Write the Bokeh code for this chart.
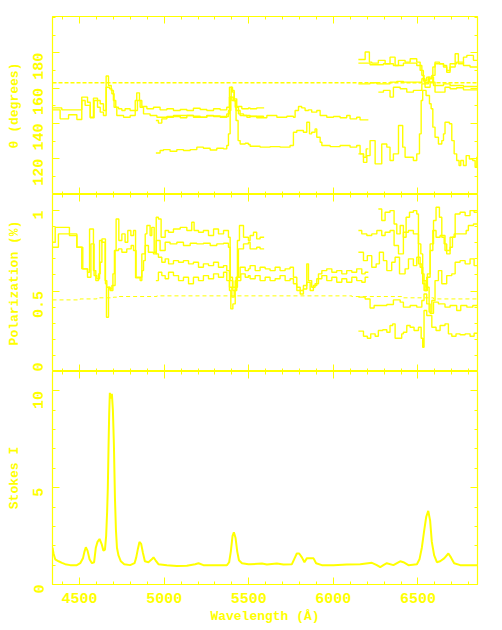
from bokeh.plotting import figure
from bokeh.layouts import column
from bokeh.models import (Range1d, FixedTicker, LinearAxis, CustomJSTickFormatter,
                          CustomLabelingPolicy)
from bokeh.embed import file_html
from bokeh.resources import INLINE

# ---------------- data ----------------
X_MIN, X_MAX = 4340, 6852
X_MAJOR = [4500, 5000, 5500, 6000, 6500]
X_MINOR = list(range(4400, 6900, 100))

# Position angle (degrees)
TH_A1_W = [4340, 4395, 4513, 4547, 4563, 4582, 4606, 4622, 4641, 4657, 4671, 4687, 4700, 4714, 4730, 4750, 4769, 4799, 4829, 4838, 4854, 4868, 4898, 4937, 4976, 5016, 5055, 5095, 5134, 5173, 5213, 5252, 5292, 5331, 5370, 5386, 5400, 5414, 5429, 5459, 5498, 5508, 5547, 5591]
TH_A1 = [148.8, 147.7, 154.9, 152.0, 143.5, 154.3, 153.0, 151.1, 147.3, 166.8, 161.5, 158.7, 153.0, 149.2, 148.3, 147.3, 148.3, 147.3, 153.0, 157.3, 153.0, 149.6, 148.3, 149.2, 147.7, 148.3, 147.3, 147.9, 147.3, 148.6, 147.9, 147.3, 148.3, 147.7, 149.2, 160.5, 158.7, 153.9, 149.6, 148.3, 148.8, 148.3, 148.8, 148.8]
TH_A2_W = [4340, 4385, 4435, 4484, 4513, 4533, 4563, 4586, 4606, 4622, 4641, 4657, 4677, 4691, 4704, 4720, 4760, 4799, 4829, 4842, 4858, 4878, 4917, 4957, 5016, 5095, 5173, 5252, 5331, 5380, 5394, 5410, 5425, 5449, 5489, 5508, 5587, 5591]
TH_A2 = [147.7, 142.6, 144.9, 142.2, 153.0, 150.2, 143.2, 153.0, 149.2, 146.4, 144.5, 160.5, 159.6, 156.8, 149.2, 144.5, 143.5, 144.5, 147.3, 153.0, 149.2, 145.4, 144.5, 143.5, 143.9, 144.5, 143.5, 144.3, 143.9, 147.3, 154.9, 153.0, 147.3, 144.5, 143.5, 144.1, 143.5, 143.5]
TH_B1_W = [4951, 4966, 4986, 5016, 5055, 5095, 5134, 5173, 5213, 5252, 5292, 5331, 5370, 5386, 5400, 5420, 5439, 5469, 5508, 5547, 5607, 5666, 5725, 5764, 5774, 5794, 5813, 5833, 5853, 5872, 5902, 5922, 5961, 6001, 6040, 6079, 6099, 6138, 6158, 6207]
TH_B1 = [141.7, 140.2, 142.6, 143.5, 144.5, 143.2, 144.5, 144.1, 143.5, 144.5, 143.9, 143.5, 145.4, 154.9, 153.0, 149.2, 145.4, 144.5, 143.9, 143.2, 144.5, 143.5, 144.1, 143.5, 147.3, 149.6, 148.8, 147.3, 147.7, 146.4, 147.3, 144.5, 143.5, 143.9, 143.2, 144.5, 142.6, 143.5, 142.0, 142.0]
TH_B2_W = [4951, 4976, 4996, 5035, 5075, 5114, 5154, 5193, 5232, 5272, 5311, 5351, 5370, 5380, 5390, 5396, 5404, 5414, 5425, 5437, 5449, 5479, 5498, 5508, 5567, 5626, 5685, 5744, 5764, 5784, 5823, 5843, 5859, 5872, 5892, 5902, 5922, 5932, 5981, 6040, 6099, 6138, 6158, 6178, 6194, 6207]
TH_B2 = [123.3, 124.7, 125.2, 124.3, 125.2, 124.7, 125.2, 126.6, 126.0, 125.0, 126.0, 125.6, 127.5, 134.1, 154.9, 160.5, 157.7, 153.0, 141.7, 130.3, 128.4, 128.8, 128.1, 127.1, 126.6, 126.9, 126.6, 127.5, 135.0, 136.0, 135.0, 140.7, 134.1, 135.0, 136.9, 132.2, 129.4, 127.5, 126.9, 127.5, 126.6, 127.5, 122.8, 120.9, 125.6, 125.6]
TH_C1_W = [6148, 6188, 6213, 6227, 6266, 6306, 6335, 6365, 6385, 6424, 6454, 6493, 6513, 6532, 6552, 6568, 6588, 6601, 6627, 6651, 6670, 6690, 6720, 6739, 6769, 6789, 6828, 6852]
TH_C1 = [176.2, 180.4, 174.7, 174.1, 175.7, 173.8, 177.5, 172.8, 175.7, 174.7, 176.6, 174.7, 170.0, 164.3, 166.2, 163.4, 171.9, 174.7, 173.8, 172.8, 170.0, 171.9, 179.4, 173.8, 177.5, 178.5, 175.7, 175.7]
TH_C2_W = [6148, 6217, 6296, 6355, 6414, 6493, 6523, 6536, 6562, 6582, 6601, 6651, 6670, 6690, 6729, 6769, 6808, 6852]
TH_C2 = [174.1, 173.2, 173.8, 172.8, 174.1, 172.8, 167.2, 163.4, 165.3, 167.2, 173.8, 171.9, 169.0, 173.8, 174.7, 172.8, 171.9, 171.9]
TH_C3_W = [6148, 6217, 6257, 6335, 6375, 6414, 6523, 6542, 6562, 6592, 6651, 6690, 6769, 6852]
TH_C3 = [162.4, 163.0, 162.4, 163.4, 163.8, 163.4, 165.3, 162.4, 166.2, 161.5, 162.4, 161.5, 160.9, 160.9]
TH_C4_W = [6266, 6296, 6335, 6355, 6395, 6434, 6473, 6523, 6542, 6572, 6601, 6660, 6690, 6729, 6769, 6852]
TH_C4 = [157.7, 158.7, 154.9, 160.5, 159.6, 157.7, 158.7, 162.4, 160.5, 163.4, 157.7, 160.5, 159.6, 160.2, 159.0, 159.0]
TH_C5_W = [6148, 6178, 6198, 6217, 6247, 6286, 6316, 6335, 6355, 6385, 6410, 6424, 6473, 6493, 6509, 6519, 6528, 6548, 6568, 6578, 6588, 6601, 6621, 6641, 6651, 6660, 6686, 6700, 6714, 6729, 6743, 6753, 6769, 6785, 6804, 6824, 6838, 6848, 6852]
TH_C5 = [122.8, 118.0, 121.8, 130.3, 117.1, 128.4, 126.6, 119.0, 122.8, 138.8, 126.6, 120.9, 119.0, 122.8, 134.1, 153.0, 158.7, 155.8, 151.1, 148.3, 137.9, 132.2, 128.4, 130.3, 134.1, 140.7, 139.8, 130.3, 122.8, 119.0, 116.2, 119.0, 116.2, 121.8, 119.9, 119.0, 115.2, 120.9, 120.9]
ISP_THETA = 163.0

# Polarization (%)
P_A1_W = [4340, 4356, 4440, 4484, 4513, 4547, 4559, 4582, 4596, 4612, 4622, 4632, 4653, 4659, 4671, 4681, 4697, 4706, 4716, 4732, 4750, 4769, 4785, 4803, 4819, 4831, 4858, 4868, 4878, 4888, 4898, 4917, 4927, 4941, 4953, 4966, 4982, 5006, 5026, 5055, 5095, 5134, 5163, 5177, 5203, 5232, 5262, 5292, 5321, 5351, 5380, 5390, 5404, 5420, 5433, 5445, 5469, 5498, 5508, 5528, 5547, 5567, 5591]
P_A1 = [0.803, 0.896, 0.855, 0.772, 0.638, 0.617, 0.886, 0.627, 0.565, 0.607, 0.679, 0.824, 0.545, 0.337, 0.524, 0.503, 0.607, 0.752, 0.948, 0.814, 0.855, 0.803, 0.876, 0.845, 0.876, 0.582, 0.565, 0.627, 0.689, 0.855, 0.907, 0.845, 0.896, 0.741, 0.959, 0.948, 0.834, 0.876, 0.865, 0.886, 0.896, 0.876, 0.928, 0.876, 0.865, 0.876, 0.845, 0.886, 0.855, 0.876, 0.834, 0.586, 0.524, 0.565, 0.814, 0.907, 0.834, 0.814, 0.845, 0.865, 0.824, 0.834, 0.834]
P_A2_W = [4340, 4375, 4440, 4484, 4519, 4547, 4567, 4586, 4602, 4618, 4632, 4651, 4661, 4677, 4691, 4710, 4730, 4750, 4779, 4805, 4819, 4834, 4868, 4888, 4907, 4937, 4953, 4976, 5006, 5035, 5075, 5114, 5154, 5193, 5232, 5272, 5311, 5351, 5380, 5390, 5406, 5425, 5439, 5469, 5498, 5508, 5547, 5567, 5591]
P_A2 = [0.772, 0.855, 0.845, 0.772, 0.638, 0.586, 0.793, 0.596, 0.576, 0.814, 0.803, 0.565, 0.524, 0.513, 0.534, 0.752, 0.762, 0.741, 0.762, 0.783, 0.752, 0.586, 0.731, 0.783, 0.741, 0.731, 0.814, 0.752, 0.803, 0.793, 0.803, 0.783, 0.797, 0.793, 0.797, 0.783, 0.793, 0.797, 0.772, 0.565, 0.503, 0.586, 0.762, 0.793, 0.803, 0.762, 0.772, 0.762, 0.762]
P_B1_W = [4951, 4966, 4986, 5006, 5026, 5055, 5085, 5114, 5144, 5173, 5203, 5232, 5262, 5292, 5321, 5351, 5370, 5386, 5400, 5414, 5429, 5449, 5479, 5498, 5508, 5538, 5567, 5597, 5626, 5656, 5685, 5715, 5744, 5764, 5784, 5804, 5823, 5843, 5853, 5872, 5892, 5912, 5932, 5961, 5991, 6020, 6050, 6079, 6109, 6138, 6168, 6188, 6207]
P_B1 = [0.731, 0.710, 0.679, 0.700, 0.669, 0.689, 0.679, 0.689, 0.669, 0.679, 0.648, 0.669, 0.658, 0.679, 0.648, 0.658, 0.627, 0.524, 0.462, 0.503, 0.586, 0.648, 0.627, 0.638, 0.658, 0.627, 0.648, 0.638, 0.627, 0.648, 0.627, 0.638, 0.648, 0.586, 0.524, 0.503, 0.534, 0.669, 0.565, 0.524, 0.545, 0.607, 0.627, 0.638, 0.617, 0.627, 0.607, 0.627, 0.617, 0.638, 0.607, 0.617, 0.617]
P_B2_W = [4951, 4966, 4986, 5006, 5026, 5055, 5085, 5114, 5144, 5173, 5203, 5232, 5262, 5292, 5321, 5351, 5370, 5386, 5394, 5406, 5420, 5433, 5453, 5479, 5498, 5508, 5538, 5567, 5597, 5626, 5656, 5685, 5715, 5744, 5764, 5784, 5804, 5823, 5843, 5863, 5882, 5902, 5932, 5961, 5991, 6020, 6050, 6079, 6109, 6138, 6168, 6188, 6207]
P_B2 = [0.565, 0.617, 0.596, 0.576, 0.617, 0.596, 0.565, 0.586, 0.545, 0.586, 0.565, 0.596, 0.576, 0.607, 0.586, 0.617, 0.565, 0.503, 0.389, 0.420, 0.524, 0.565, 0.607, 0.586, 0.596, 0.576, 0.596, 0.565, 0.586, 0.565, 0.576, 0.596, 0.565, 0.576, 0.545, 0.503, 0.482, 0.513, 0.555, 0.503, 0.534, 0.576, 0.596, 0.565, 0.586, 0.555, 0.576, 0.555, 0.586, 0.565, 0.555, 0.586, 0.586]
P_C1_W = [6266, 6286, 6306, 6335, 6359, 6375, 6395, 6414, 6430, 6450, 6473, 6493, 6503, 6517, 6528, 6542, 6556, 6572, 6592, 6607, 6627, 6641, 6655, 6670, 6690, 6704, 6720, 6749, 6779, 6808, 6832, 6852]
P_C1 = [1.010, 0.938, 0.990, 1.000, 0.917, 0.855, 0.907, 0.834, 0.959, 0.990, 1.000, 0.979, 0.793, 0.731, 0.545, 0.503, 0.607, 0.793, 0.938, 1.021, 0.959, 0.834, 0.793, 0.731, 0.772, 0.834, 0.979, 0.990, 0.969, 1.000, 0.990, 0.990]
P_C2_W = [6148, 6168, 6198, 6227, 6257, 6286, 6306, 6335, 6359, 6385, 6414, 6444, 6473, 6503, 6523, 6536, 6552, 6572, 6588, 6607, 6631, 6660, 6690, 6714, 6785, 6798, 6828, 6852]
P_C2 = [0.876, 0.855, 0.845, 0.855, 0.876, 0.845, 0.865, 0.876, 0.783, 0.731, 0.865, 0.876, 0.855, 0.669, 0.607, 0.503, 0.586, 0.752, 0.876, 0.834, 0.845, 0.752, 0.834, 0.855, 0.876, 0.907, 0.917, 0.917]
P_C3_W = [6148, 6178, 6201, 6227, 6253, 6272, 6296, 6316, 6345, 6365, 6391, 6424, 6444, 6473, 6493, 6513, 6528, 6548, 6566, 6582, 6601, 6621, 6641, 6670, 6700, 6720, 6749, 6779, 6808, 6832, 6852]
P_C3 = [0.741, 0.689, 0.720, 0.648, 0.669, 0.741, 0.689, 0.627, 0.679, 0.710, 0.607, 0.638, 0.700, 0.658, 0.710, 0.648, 0.565, 0.524, 0.369, 0.441, 0.565, 0.627, 0.545, 0.596, 0.607, 0.679, 0.689, 0.669, 0.700, 0.658, 0.658]
P_C4_W = [6148, 6188, 6217, 6241, 6316, 6355, 6395, 6414, 6454, 6493, 6523, 6536, 6552, 6572, 6592, 6621, 6660, 6690, 6729, 6753, 6789, 6824, 6852]
P_C4 = [0.462, 0.451, 0.395, 0.410, 0.416, 0.445, 0.431, 0.400, 0.410, 0.400, 0.441, 0.482, 0.420, 0.362, 0.431, 0.420, 0.400, 0.410, 0.379, 0.410, 0.400, 0.410, 0.410]
P_C5_W = [6148, 6178, 6201, 6221, 6247, 6266, 6292, 6316, 6335, 6351, 6365, 6404, 6414, 6434, 6454, 6477, 6503, 6519, 6528, 6536, 6552, 6582, 6607, 6631, 6660, 6680, 6700, 6725, 6749, 6779, 6808, 6832, 6852]
P_C5 = [0.251, 0.219, 0.207, 0.234, 0.219, 0.255, 0.259, 0.244, 0.286, 0.296, 0.207, 0.234, 0.244, 0.286, 0.275, 0.255, 0.275, 0.207, 0.151, 0.379, 0.348, 0.275, 0.255, 0.286, 0.296, 0.234, 0.219, 0.234, 0.228, 0.234, 0.219, 0.238, 0.238]
ISP_P_W = [4340, 4503, 4602, 4700, 4730, 4957, 6109, 6404, 6592, 6852]
ISP_P = [0.445, 0.451, 0.458, 0.462, 0.466, 0.470, 0.466, 0.458, 0.451, 0.451]

# Stokes I
I_W = [4340, 4346, 4356, 4376, 4396, 4415, 4445, 4484, 4504, 4520, 4529, 4537, 4547, 4559, 4573, 4586, 4596, 4606, 4618, 4630, 4641, 4650, 4657, 4663, 4667, 4671, 4675, 4679, 4685, 4691, 4697, 4703, 4709, 4715, 4721, 4730, 4744, 4764, 4799, 4825, 4835, 4845, 4854, 4864, 4874, 4886, 4907, 4927, 4937, 4949, 4966, 5016, 5075, 5134, 5183, 5203, 5232, 5292, 5371, 5384, 5394, 5404, 5412, 5422, 5432, 5442, 5460, 5498, 5508, 5578, 5607, 5666, 5705, 5755, 5768, 5784, 5798, 5814, 5829, 5843, 5863, 5883, 5898, 5932, 6001, 6080, 6159, 6228, 6257, 6277, 6296, 6316, 6355, 6395, 6414, 6444, 6494, 6509, 6523, 6537, 6549, 6561, 6572, 6582, 6596, 6612, 6631, 6655, 6680, 6695, 6714, 6750, 6852]
I_VAL = [1.9, 1.6, 1.3, 1.2, 1.12, 1.05, 1.0, 1.0, 1.1, 1.35, 1.7, 1.92, 1.75, 1.3, 1.1, 1.15, 1.9, 2.2, 2.35, 2.1, 1.75, 1.8, 2.5, 3.8, 5.0, 7.0, 8.8, 9.9, 9.6, 9.85, 9.0, 7.2, 4.5, 2.8, 1.9, 1.5, 1.2, 1.05, 1.0, 1.1, 1.4, 1.85, 2.2, 2.1, 1.65, 1.2, 1.15, 1.3, 1.4, 1.25, 1.05, 1.0, 0.95, 0.97, 1.05, 1.1, 1.0, 1.0, 1.0, 1.15, 1.7, 2.5, 2.7, 2.4, 1.7, 1.25, 1.1, 1.05, 1.05, 1.08, 1.03, 1.08, 1.03, 1.05, 1.3, 1.6, 1.6, 1.4, 1.15, 1.35, 1.35, 1.35, 1.1, 1.0, 1.0, 1.03, 1.05, 1.12, 1.0, 0.9, 1.0, 1.1, 1.0, 1.2, 1.15, 1.0, 1.05, 1.3, 1.9, 2.8, 3.5, 3.8, 3.3, 2.2, 1.5, 1.15, 1.2, 1.35, 1.6, 1.4, 1.1, 1.0, 1.0]

# ---------------- styling ----------------
YEL = "#ffff00"
FONT = "Liberation Mono"
FMT = CustomJSTickFormatter(code="return tick.toString();")
NO_LABELS = CustomLabelingPolicy(code="for (const i of indices) { if (i < 0) yield i }")
xr = Range1d(X_MIN, X_MAX)


def styled_axis(ticks, minor, labels, label_text=None, vertical=False):
    ax = LinearAxis(ticker=FixedTicker(ticks=ticks, minor_ticks=minor), formatter=FMT)
    ax.axis_line_color = None
    ax.major_tick_line_color = YEL
    ax.minor_tick_line_color = YEL
    ax.major_tick_in = 7
    ax.major_tick_out = 0
    ax.minor_tick_in = 3
    ax.minor_tick_out = 0
    if labels:
        ax.major_label_text_color = YEL
        ax.major_label_text_font = FONT
        ax.major_label_text_font_size = "15px"
        ax.major_label_text_font_style = "bold"
        ax.major_label_standoff = 14 if vertical else 8
        if vertical:
            ax.major_label_orientation = 1.5707963
        ax.axis_label = label_text
        ax.axis_label_text_color = YEL
        ax.axis_label_text_font = FONT
        ax.axis_label_text_font_size = "13px"
        ax.axis_label_text_font_style = "bold"
        ax.axis_label_standoff = 4 if vertical else 3
    else:
        ax.major_label_policy = NO_LABELS
        ax.major_label_text_font_size = "0px"
        ax.major_label_standoff = 0
    return ax


def panel(height, y0, y1, ymaj, ymin, ylabel, bottom_labels, top_b, bot_b):
    p = figure(width=487, height=height, x_range=xr, y_range=Range1d(y0, y1),
               output_backend="svg", toolbar_location=None,
               x_axis_location=None, y_axis_location=None,
               min_border_left=52, min_border_right=10,
               min_border_top=top_b, min_border_bottom=bot_b)
    p.grid.visible = False
    p.outline_line_color = YEL
    p.outline_line_width = 1.2
    p.background_fill_color = "white"
    p.border_fill_color = "white"
    p.add_layout(styled_axis(ymaj, ymin, True, ylabel, vertical=True), "left")
    p.add_layout(styled_axis(ymaj, ymin, False), "right")
    p.add_layout(styled_axis(X_MAJOR, X_MINOR, False), "above")
    p.add_layout(styled_axis(X_MAJOR, X_MINOR, bottom_labels,
                             "Wavelength (Å)" if bottom_labels else None), "below")
    return p


p1 = panel(194, 99.8, 200.5, [120, 140, 160, 180], list(range(100, 201, 10)),
           "θ (degrees)", False, 16, 0)
p2 = panel(177, 0.0, 1.1, [0, 0.5, 1.0], [i / 10 for i in range(0, 12)],
           "Polarization (%)", False, 0, 0)
p3 = panel(257, 0.0, 11.0, [0, 5, 10], list(range(0, 12)),
           "Stokes I", True, 0, 44)

LW = 1.4
for w, v in [(TH_A1_W, TH_A1), (TH_A2_W, TH_A2), (TH_B1_W, TH_B1), (TH_B2_W, TH_B2),
             (TH_C1_W, TH_C1), (TH_C2_W, TH_C2), (TH_C3_W, TH_C3), (TH_C4_W, TH_C4),
             (TH_C5_W, TH_C5)]:
    p1.step(w, v, mode="after", line_color=YEL, line_width=LW)
p1.line([X_MIN, X_MAX], [ISP_THETA, ISP_THETA], line_color=YEL, line_width=1.4,
        line_dash="4 2")

for w, v in [(P_A1_W, P_A1), (P_A2_W, P_A2), (P_B1_W, P_B1), (P_B2_W, P_B2),
             (P_C1_W, P_C1), (P_C2_W, P_C2), (P_C3_W, P_C3), (P_C4_W, P_C4),
             (P_C5_W, P_C5)]:
    p2.step(w, v, mode="after", line_color=YEL, line_width=LW)
p2.step(ISP_P_W, ISP_P, mode="after", line_color=YEL, line_width=1, line_dash="4 3")

p3.line(I_W, I_VAL, line_color=YEL, line_width=2)

layout = column(p1, p2, p3, spacing=0)
open("out.html", "w").write(file_html(layout, INLINE))
